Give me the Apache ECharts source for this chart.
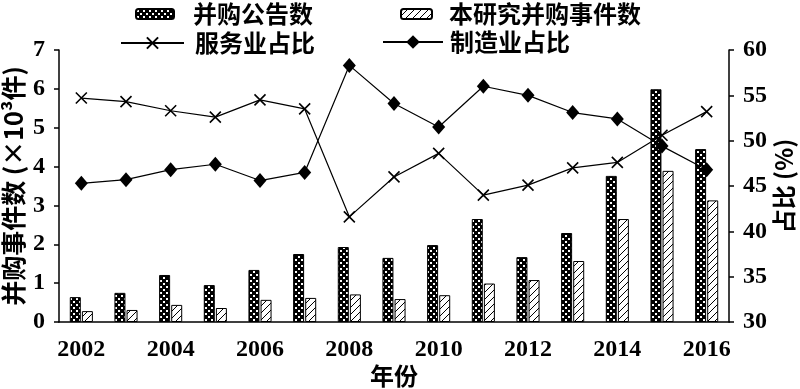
<!DOCTYPE html>
<html><head><meta charset="utf-8">
<script src="https://cdn.jsdelivr.net/npm/echarts@6/dist/echarts.min.js"></script>
<style>html,body{margin:0;padding:0;background:#fff}#c{width:800px;height:389px}</style>
</head><body><div id="c"></div>
<script>
const years = ['2002','2003','2004','2005','2006','2007','2008','2009','2010','2011','2012','2013','2014','2015','2016'];
const announcements = [0.64,0.75,1.21,0.95,1.34,1.75,1.93,1.65,1.98,2.65,1.67,2.29,3.76,5.99,4.45];
const studyEvents = [0.28,0.31,0.44,0.36,0.57,0.62,0.71,0.59,0.69,0.99,1.08,1.57,2.65,3.89,3.13];
const serviceShare = [54.7,54.3,53.3,52.6,54.5,53.5,41.6,46.0,48.6,44.0,45.1,47.0,47.6,50.6,53.2];
const manufShare = [45.3,45.7,46.8,47.4,45.6,46.5,58.3,54.1,51.5,56.0,55.0,53.1,52.4,49.4,46.8];
const leftTicks = {min:0, max:7, interval:1};
const rightTicks = {min:30, max:60, interval:5};

function checker(){
  const c=document.createElement('canvas');c.width=6;c.height=6;
  const g=c.getContext('2d');g.fillStyle='#000';g.fillRect(0,0,6,6);
  g.fillStyle='#fff';g.fillRect(1,1,2,2);g.fillRect(4,4,2,2);
  return c;
}
function hatch(){
  const c=document.createElement('canvas');c.width=7;c.height=7;
  const g=c.getContext('2d');g.fillStyle='#fff';g.fillRect(0,0,7,7);
  g.strokeStyle='#000';g.lineWidth=1;
  g.beginPath();g.moveTo(-1,8);g.lineTo(8,-1);g.stroke();
  return c;
}
const numFont = {fontFamily:'Liberation Serif', fontWeight:'bold', fontSize:24, color:'#000'};
const cjk = {fontFamily:'Noto Sans CJK SC', fontWeight:'bold', fontSize:24, color:'#000'};
const cjkName = Object.assign({}, cjk, {fontSize:25});
const chart = echarts.init(document.getElementById('c'), null, {renderer:'canvas'});
const crossPath = 'path://M0,0L10,10M10,0L0,10';
function lg(name,left,top,w,h,pad){
  return {data:[name], left:left, top:top, itemWidth:w, itemHeight:h, padding:0,
    textStyle:Object.assign({}, cjk, {padding:[0,0,0,pad]})};
}
chart.setOption({
  animation:false,
  backgroundColor:'#fff',
  legend:[
    lg('并购公告数',135,2,38,10,14),
    lg('本研究并购事件数',400,2,31,10,12),
    lg('服务业占比',120,31,63,14,6),
    lg('制造业占比',382,30,60,17,2)
  ],
  grid:{left:59,right:71,top:50,bottom:67,containLabel:false,outerBoundsMode:'none'},
  xAxis:{type:'category', data:years, boundaryGap:true,
    name:'年份', nameLocation:'middle', nameGap:42, nameMoveOverlap:false, nameTextStyle:cjk,
    axisLine:{lineStyle:{color:'#000',width:1.5}},
    axisTick:{interval:0,length:5,lineStyle:{color:'#000',width:1.5}},
    axisLabel:Object.assign({interval:1, margin:16}, numFont),
    splitLine:{show:false}},
  yAxis:[
    {type:'value', min:leftTicks.min, max:leftTicks.max, interval:leftTicks.interval,
     name:'并购事件数 (×10³件)', nameLocation:'middle', nameRotate:90, nameGap:33, nameMoveOverlap:false, nameTextStyle:cjkName,
     axisLine:{show:true,lineStyle:{color:'#000',width:1.5}},
     axisTick:{show:true,length:5,lineStyle:{color:'#000',width:1.5}},
     axisLabel:Object.assign({margin:14}, numFont), splitLine:{show:false}},
    {type:'value', min:rightTicks.min, max:rightTicks.max, interval:rightTicks.interval, position:'right',
     name:'占比 (%)', nameLocation:'middle', nameRotate:90, nameGap:43, nameMoveOverlap:false, nameTextStyle:cjk,
     axisLine:{show:true,lineStyle:{color:'#000',width:1.5}},
     axisTick:{show:true,length:5,lineStyle:{color:'#000',width:1.5}},
     axisLabel:Object.assign({margin:14}, numFont), splitLine:{show:false}}
  ],
  series:[
    {name:'并购公告数', type:'bar', data:announcements, barWidth:11, barGap:'10%',
     itemStyle:{color:{image:checker(),repeat:'repeat'}, borderColor:'#000', borderWidth:1}},
    {name:'本研究并购事件数', type:'bar', data:studyEvents, barWidth:11,
     itemStyle:{color:{image:hatch(),repeat:'repeat'}, borderColor:'#000', borderWidth:1}},
    {name:'服务业占比', type:'line', yAxisIndex:1, data:serviceShare, z:5,
     symbol:crossPath, symbolSize:11, showSymbol:true,
     lineStyle:{color:'#000',width:1.2},
     itemStyle:{color:'#000',borderColor:'#000',borderWidth:1.6}},
    {name:'制造业占比', type:'line', yAxisIndex:1, data:manufShare, z:5,
     symbol:'diamond', symbolSize:[13,15], showSymbol:true,
     lineStyle:{color:'#000',width:1.2},
     itemStyle:{color:'#000',borderColor:'#000',borderWidth:0}}
  ]
});
</script></body></html>
